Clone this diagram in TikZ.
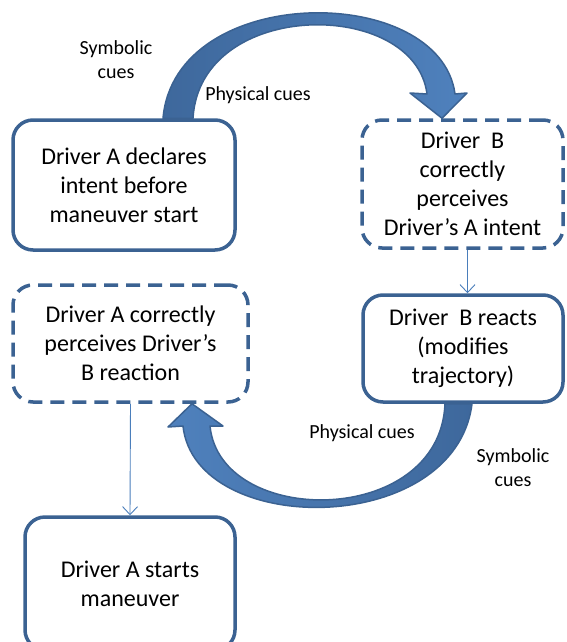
\documentclass[tikz,border=0pt]{standalone}
\usepackage{fontspec}
\setmainfont{Carlito}
\usepackage{xcolor}
\usepackage{tikz}
\usetikzlibrary{arrows.meta,positioning,backgrounds}
\definecolor{boxline}{RGB}{59,98,146}
\definecolor{arrlight}{RGB}{79,129,189}
\definecolor{arrdark}{RGB}{62,104,156}
\definecolor{thinline}{RGB}{74,126,187}

\begin{document}
\begin{tikzpicture}[x=1pt,y=-1pt,
  solidbox/.style={draw=boxline, line width=3.5pt, rounded corners=20pt, fill=white,
              align=center, font=\fontsize{24}{29}\selectfont, inner sep=0pt},
  dashbox/.style={solidbox, dash pattern=on 14pt off 8pt},
  cue/.style={align=center, font=\fontsize{20}{24}\selectfont, inner sep=0pt},
  thinarr/.style={draw=thinline, line width=0.9pt, -{Straight Barb[length=8pt,width=15pt]}},
  bigarr/.style={draw=boxline, line width=1.5pt, line join=round}]
\useasboundingbox (0,0) rectangle (566,642);
\clip (0,0) rectangle (566,642);
% --- boxes ---
\node[solidbox, minimum width=222pt, minimum height=130pt] (b1) at (124,185)
  {Driver A declares\\intent before\\maneuver start};
\node[dashbox, minimum width=201pt, minimum height=128pt] (b2) at (462.5,184)
  {Driver\ \ B\\correctly\\perceives\\Driver’s A intent};
\node[solidbox, minimum width=200pt, minimum height=107pt] (b3) at (463,348.5)
  {Driver\ \ B reacts\\(modifies\\trajectory)};
\node[dashbox, minimum width=235pt, minimum height=117pt] (b4) at (130.5,343.5)
  {Driver A correctly\\perceives Driver’s\\B reaction};
\node[solidbox, minimum width=210pt, minimum height=133pt] (b5) at (130,583.5)
  {Driver A starts\\maneuver};
% --- cues ---
\node[cue] (sym1) at (116,60) {Symbolic\\cues};
\node[cue] (phy1) at (258,95) {Physical cues};
\node[cue] (phy2) at (362,433) {Physical cues};
\node[cue] (sym2) at (513,468) {Symbolic\\cues};
% --- big curved arrows, behind the boxes ---
\coordinate (t1) at ([xshift=39pt]b1.north);
\coordinate (t2) at ([xshift=-20.5pt]b2.north);
\coordinate (u1) at ([xshift=9pt]b3.south);
\coordinate (u2) at ([xshift=61.5pt]b4.south);
\begin{scope}[on background layer]
\shadedraw[bigarr, left color=arrdark, right color=arrlight]
  (t1) .. controls (175,-18) and (440,-18) .. (455,94) -- (467,93) -- (t2)
  -- (410,93) -- (427,94) .. controls (415,-2) and (200,-2) .. ([xshift=30pt]t1) -- cycle;
\shadedraw[bigarr, left color=arrlight, right color=arrdark]
  ([xshift=-27pt]u1) .. controls (440,528) and (220,528) .. (210,426) -- (223,426) -- (u2)
  -- (168,427) -- (183,426) .. controls (195,538) and (455,538) .. (u1) -- cycle;
\end{scope}
% --- thin arrows ---
\draw[thinarr] ([xshift=5pt]b2.south) -- ([xshift=5pt]b2.south |- b3.north);
\draw[thinarr] (b4.south) -- (b5.north);
\end{tikzpicture}
\end{document}
